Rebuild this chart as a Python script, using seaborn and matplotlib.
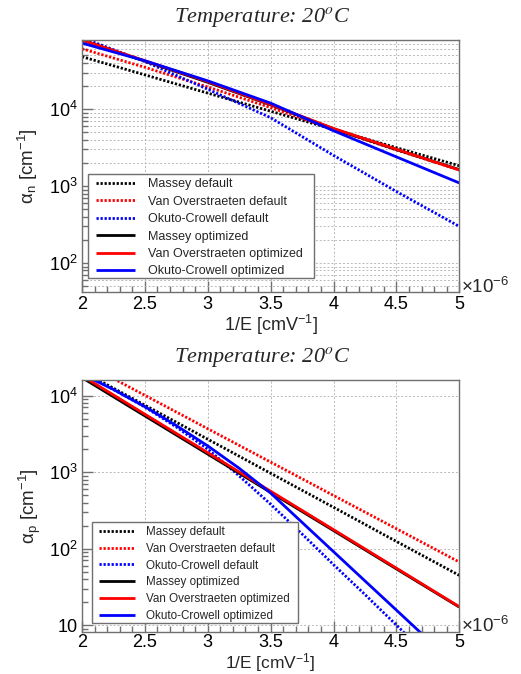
import matplotlib
matplotlib.use("Agg")
import matplotlib.pyplot as plt
import seaborn as sns
import pandas as pd
from matplotlib.patches import Rectangle
from matplotlib.ticker import (FixedLocator, FixedFormatter, LogLocator,
                               NullFormatter, MultipleLocator, FuncFormatter)

# ---------------- data (1/E in units of 1e-6 cm/V) ----------------
X_COARSE = [2.0, 2.5, 3.0, 3.5, 4.0, 4.5, 5.0]
X_FINE = [2.0, 2.25, 2.5, 2.75, 3.0, 3.25, 3.5, 3.75, 4.0, 4.25, 4.5, 4.75, 5.0]

LABELS = ["Massey default", "Van Overstraeten default", "Okuto-Crowell default",
          "Massey optimized", "Van Overstraeten optimized", "Okuto-Crowell optimized"]

# electrons (alpha_n)
N_MASSEY_DEF = [48200, 28000, 16200, 9420, 5460, 3160, 1840]
N_VO_DEF = [61200, 35100, 19500, 10500, 5500, 2950, 1620]
N_OC_DEF = [85100, 41700, 18200, 7760, 2510, 851, 299]
N_MASSEY_OPT = [79400, 42200, 22400, 11400, 5560, 2990, 1640]
N_VO_OPT = [79400, 42700, 22900, 11500, 5620, 3020, 1620]
N_OC_OPT = [72400, 42700, 23400, 12000, 5250, 2400, 1100]

# holes (alpha_p)
P_MASSEY_DEF = [20890, 7499, 2692, 966, 347, 124, 44.7]
P_VO_DEF = [27540, 10090, 3690, 1352, 495, 182, 66.7]
P_OC_DEF = [20417, 12023, 7079, 3890, 1995, 891, 380, 155, 61.7, 25.1, 10.0, 3.98, 1.58]
P_MASSEY_OPT = [17180, 5433, 1718, 543, 172, 54.3, 17.2]
P_VO_OPT = [18200, 5715, 1795, 562, 177, 55.5, 17.4]
P_OC_OPT = [19055, 12023, 7178, 4064, 2200, 1122, 532, 220, 91.2, 37.8, 15.7, 6.5, 2.7]

TITLE = "Temperature: 20$^{o}$C"
X_LABEL = "1/E [cmV$^{-1}$]"
Y_LABEL_TOP = "α$_{\\mathrm{n}}$ [cm$^{-1}$]"
Y_LABEL_BOT = "α$_{\\mathrm{p}}$ [cm$^{-1}$]"
X_SCALE_TEXT = "×10$^{-6}$"
Y_TICKS_TOP = [1e2, 1e3, 1e4]
Y_TICKLABELS_TOP = ["$10^{2}$", "$10^{3}$", "$10^{4}$"]
Y_TICKS_BOT = [1e1, 1e2, 1e3, 1e4]
Y_TICKLABELS_BOT = ["10", "$10^{2}$", "$10^{3}$", "$10^{4}$"]

# ---------------- style ----------------
sns.set_theme(style="white")
plt.rcParams["font.family"] = ["Liberation Sans", "DejaVu Sans"]
plt.rcParams["mathtext.fontset"] = "custom"
plt.rcParams["mathtext.rm"] = "Liberation Sans"
plt.rcParams["mathtext.it"] = "Liberation Sans:italic"
plt.rcParams["mathtext.bf"] = "Liberation Sans:bold"
plt.rcParams["mathtext.sf"] = "Liberation Sans"

COLORS = ["black", "red", "blue", "black", "red", "blue"]
DOT = (0, (0.8, 0.65))
STYLES = [DOT, DOT, DOT, "-", "-", "-"]
FRAME = "#707070"

W, H = 521, 674
fig = plt.figure(figsize=(W / 100, H / 100), dpi=100)


def axes_px(left, top, right, bottom):
    return fig.add_axes([left / W, 1 - bottom / H, (right - left) / W, (bottom - top) / H])


ax1 = axes_px(82, 40, 459.3, 292)
ax2 = axes_px(82, 380, 459.3, 631.7)

top_series = [(X_COARSE, N_MASSEY_DEF), (X_COARSE, N_VO_DEF), (X_COARSE, N_OC_DEF),
              (X_COARSE, N_MASSEY_OPT), (X_COARSE, N_VO_OPT), (X_COARSE, N_OC_OPT)]
bot_series = [(X_COARSE, P_MASSEY_DEF), (X_COARSE, P_VO_DEF), (X_FINE, P_OC_DEF),
              (X_COARSE, P_MASSEY_OPT), (X_COARSE, P_VO_OPT), (X_FINE, P_OC_OPT)]


def draw(ax, series, ylim, yticks, yticklabels, minor_ygrid, leg, xpad):
    ax.set_yscale("log")
    for (xs, ys), lab, col, ls in zip(series, LABELS, COLORS, STYLES):
        df = pd.DataFrame({"x": xs, "y": ys})
        sns.lineplot(data=df, x="x", y="y", ax=ax, color=col, linestyle=ls,
                     linewidth=2.0, label=lab, solid_capstyle="butt")
    ax.set_xlim(2, 5)
    ax.set_ylim(*ylim)
    ax.set_xlabel("")
    ax.set_ylabel("")
    ax.xaxis.set_major_locator(MultipleLocator(0.5))
    ax.xaxis.set_minor_locator(MultipleLocator(0.1))
    ax.xaxis.set_major_formatter(FuncFormatter(lambda v, p: f"{v:g}"))
    ax.yaxis.set_major_locator(FixedLocator(yticks))
    ax.yaxis.set_major_formatter(FixedFormatter(yticklabels))
    ax.yaxis.set_minor_locator(LogLocator(base=10, subs=range(2, 10), numticks=20))
    ax.yaxis.set_minor_formatter(NullFormatter())
    ax.tick_params(which="both", direction="in", colors=FRAME, labelcolor="black",
                   top=False, right=False, left=True, bottom=True, width=1)
    ax.tick_params(which="major", length=8, labelsize=13, pad=3)
    ax.tick_params(axis="x", which="major", pad=xpad)
    ax.tick_params(which="minor", length=4)
    for s in ax.spines.values():
        s.set_color(FRAME)
        s.set_linewidth(1)
    gkw = dict(color="#b8b8b8", linestyle=(0, (2, 2)), linewidth=0.7)
    ax.grid(False)
    ax.grid(True, which="major", axis="x", **gkw)
    ax.grid(True, which="both" if minor_ygrid else "major", axis="y", **gkw)
    ax.set_axisbelow(True)

    # legend frame (box in pixels) + frameless legend placed inside it
    (bx0, by0, bx1, by1), (hx, hy), fs, hl, tp, lsp = leg
    ax.add_patch(Rectangle((bx0 / W, 1 - by1 / H), (bx1 - bx0) / W, (by1 - by0) / H,
                           transform=fig.transFigure, facecolor="white",
                           edgecolor=FRAME, linewidth=1, zorder=4.9, clip_on=False))
    ax.legend(loc="upper left", bbox_to_anchor=(hx / W, 1 - hy / H),
              bbox_transform=fig.transFigure, borderaxespad=0, borderpad=0,
              fontsize=fs, handlelength=hl, handletextpad=tp, labelspacing=lsp,
              frameon=False)


draw(ax1, top_series, (42, 79500), Y_TICKS_TOP, Y_TICKLABELS_TOP, True,
     ((87.7, 174, 314.3, 277.7), (96, 178.4), 9.0, 3.12, 1.0, 0.43), 3)
draw(ax2, bot_series, (8.2, 16000), Y_TICKS_BOT, Y_TICKLABELS_BOT, False,
     ((91.7, 522.3, 298.3, 623.3), (99.3, 525.9), 8.4, 3.06, 0.92, 0.415), 2)


def ftext(x, y, s, **kw):
    fig.text(x / W, 1 - y / H, s, **kw)


for ty in (17, 357):
    ftext(262, ty, TITLE, ha="center", va="center", fontsize=16,
          family="Liberation Serif", style="italic", math_fontfamily="stix")
ftext(270.7, 324.5, X_LABEL, ha="center", va="center", fontsize=13)
ftext(270.7, 663, X_LABEL, ha="center", va="center", fontsize=12.5)
ftext(28, 166, Y_LABEL_TOP, ha="center", va="center", rotation=90, fontsize=13.5)
ftext(30, 506, Y_LABEL_BOT, ha="center", va="center", rotation=90, fontsize=13.5)
for sy in (286.7, 626):
    ftext(461, sy, X_SCALE_TEXT, ha="left", va="center", fontsize=13.5)

fig.savefig("out.png", dpi=100)
